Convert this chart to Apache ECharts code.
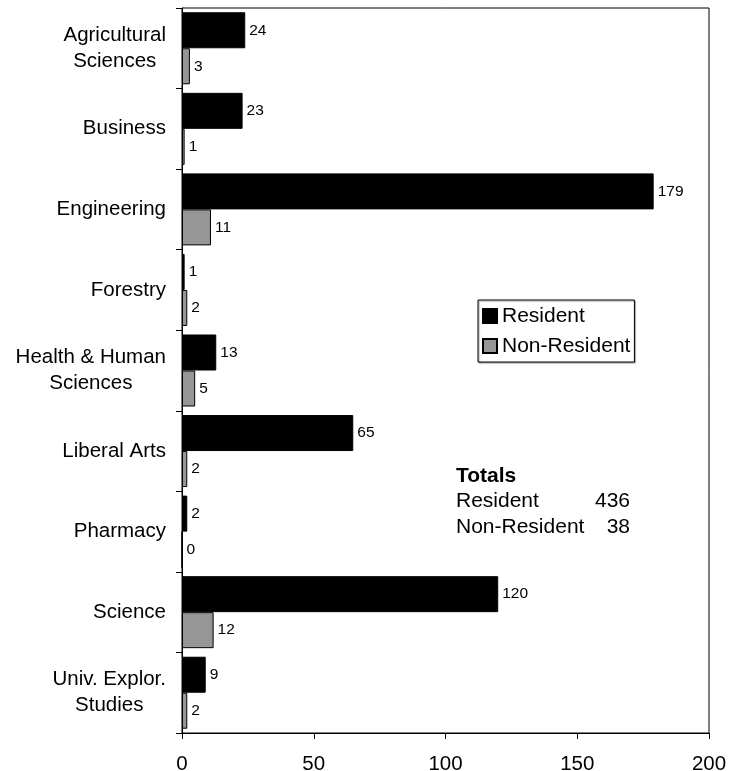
<!DOCTYPE html>
<html>
<head>
<meta charset="utf-8">
<script src="https://cdn.jsdelivr.net/npm/echarts@6/dist/echarts.min.js"></script>
<style>
html,body{margin:0;padding:0;background:#fff;}
#chart{width:741px;height:771px;}
</style>
</head>
<body>
<div id="chart"></div>
<script>
const categories = [
  'Agricultural\nSciences',
  'Business',
  'Engineering',
  'Forestry',
  'Health & Human\nSciences',
  'Liberal Arts',
  'Pharmacy',
  'Science',
  'Univ. Explor.\nStudies'
];
const residentValues = [24, 23, 179, 1, 13, 65, 2, 120, 9];
const nonResidentValues = [3, 1, 11, 2, 5, 2, 0, 12, 2];
const seriesNames = ['Resident', 'Non-Resident'];
const xTicks = { min: 0, max: 200, interval: 50 };
const totalsTitle = 'Totals';
const totalsRows = [['Resident', '436'], ['Non-Resident', '38']];

const FONT = '"Liberation Sans", Arial, sans-serif';
const chart = echarts.init(document.getElementById('chart'), null, { renderer: 'canvas' });

const graphics = [
  { type: 'text', left: 456, top: 466, style: { text: totalsTitle, font: 'bold 21px ' + FONT, fill: '#000' } }
];
totalsRows.forEach((r, i) => {
  graphics.push({ type: 'text', left: 456, top: 491 + i * 25.5, style: { text: r[0], font: '21px ' + FONT, fill: '#000' } });
  graphics.push({ type: 'text', right: 741 - 630, top: 491 + i * 25.5, style: { text: r[1], font: '21px ' + FONT, fill: '#000', align: 'right' } });
});

const labelCfg = { show: true, position: 'right', distance: 4, color: '#000', fontSize: 15.5, fontFamily: FONT };

chart.setOption({
  animation: false,
  backgroundColor: '#fff',
  grid: { left: 182, right: 32, top: 8, bottom: 38, show: true, borderColor: '#000', borderWidth: 1, containLabel: false, outerBoundsMode: 'none' },
  legend: {
    orient: 'vertical',
    left: 478, top: 300,
    padding: [4, 4, 4, 4],
    itemGap: 6,
    itemWidth: 14, itemHeight: 14,
    borderColor: '#000', borderWidth: 1,
    backgroundColor: '#fff',
    shadowColor: 'rgba(0,0,0,0.4)', shadowBlur: 1, shadowOffsetX: 1, shadowOffsetY: 1,
    icon: 'rect',
    textStyle: { fontSize: 21, fontFamily: FONT, color: '#000', lineHeight: 24 },
    data: seriesNames
  },
  xAxis: {
    type: 'value', min: xTicks.min, max: xTicks.max, interval: xTicks.interval,
    splitLine: { show: false },
    axisLine: { show: true, lineStyle: { color: '#000', width: 1 } },
    axisTick: { show: true, length: 6, lineStyle: { color: '#000' } },
    axisLabel: { fontSize: 20.5, fontFamily: FONT, color: '#000', margin: 21 }
  },
  yAxis: {
    type: 'category', data: categories, inverse: true,
    axisLine: { show: true, lineStyle: { color: '#000', width: 1 } },
    axisTick: { show: true, length: 6, lineStyle: { color: '#000' } },
    axisLabel: {
      margin: 16, color: '#000',
      formatter: v => v.split('\n').map(l => '{c|' + l + '}').join('\n'),
      rich: { c: { align: 'center', fontSize: 20.5, fontFamily: FONT, color: '#000', lineHeight: 26 } }
    }
  },
  series: [
    {
      name: seriesNames[0], type: 'bar', data: residentValues,
      barWidth: 36, barGap: '0%',
      itemStyle: { color: '#000', borderColor: '#000', borderWidth: 1 },
      label: labelCfg
    },
    {
      name: seriesNames[1], type: 'bar', data: nonResidentValues,
      barWidth: 36, barGap: '0%',
      itemStyle: { color: '#969696', borderColor: '#000', borderWidth: 1 },
      label: labelCfg
    }
  ],
  graphic: graphics
});
</script>
</body>
</html>
